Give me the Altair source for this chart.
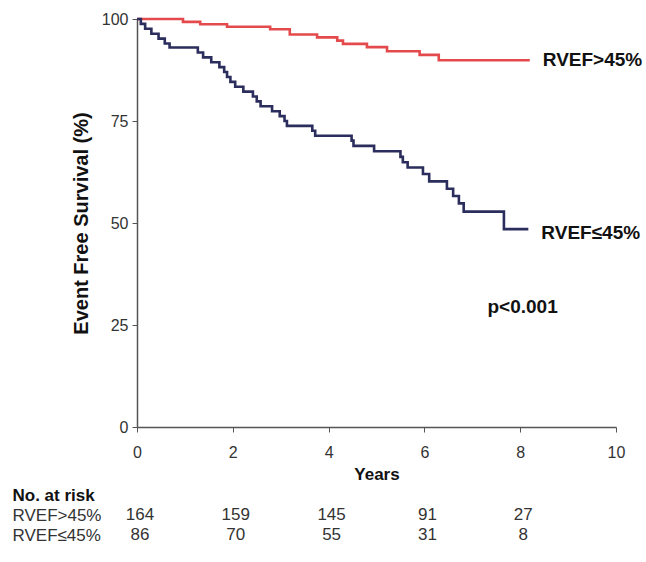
import altair as alt
import pandas as pd

FONT = "Liberation Sans"

# Kaplan-Meier curves: time (years) at which each level begins, event-free survival (%)
high_t = [0, 0.96, 1.32, 1.88, 2.78, 3.19, 3.76, 4.18, 4.30, 4.80, 5.22, 5.90, 6.30, 8.20]
high_s = [100, 99.3, 98.7, 98.1, 97.5, 96.2, 95.5, 94.7, 93.9, 93.1, 92.1, 91.2, 89.9, 89.9]

low_t = [0, 0.08, 0.17, 0.30, 0.45, 0.58, 0.68, 1.27, 1.38, 1.55, 1.72, 1.82, 1.88,
         1.95, 2.05, 2.22, 2.42, 2.50, 2.58, 2.82, 2.98, 3.08, 3.13, 3.66, 3.72,
         4.48, 4.52, 4.95, 5.50, 5.55, 5.65, 5.97, 6.10, 6.47, 6.60, 6.72, 6.82,
         7.66, 8.17]
low_s = [100, 98.8, 97.6, 96.4, 95.2, 94.0, 93.0, 91.8, 90.6, 89.4, 88.2, 87.0, 85.8,
         84.6, 83.4, 82.2, 81.0, 79.8, 78.6, 77.4, 76.2, 75.0, 73.8, 72.6, 71.4,
         70.2, 68.9, 67.6, 66.2, 64.9, 63.6, 62.0, 60.2, 58.4, 56.6, 54.8, 52.8,
         48.5, 48.5]

groups = ["RVEF>45%", "RVEF≤45%"]
colors = ["#e44a4c", "#2b2d5c"]

# Numbers at risk
risk_years = [0, 2, 4, 6, 8]
risk_high = [164, 159, 145, 91, 27]
risk_low = [86, 70, 55, 31, 8]
risk_rows = ["No. at risk", "RVEF>45%", "RVEF≤45%"]

p_text = "p<0.001"

curves = pd.DataFrame(
    [{"t": t, "s": s, "group": groups[0]} for t, s in zip(high_t, high_s)]
    + [{"t": t, "s": s, "group": groups[1]} for t, s in zip(low_t, low_s)]
)
ends = curves.groupby("group", as_index=False).last()

risk = pd.DataFrame(
    [{"t": t, "n": n, "row": groups[0]} for t, n in zip(risk_years, risk_high)]
    + [{"t": t, "n": n, "row": groups[1]} for t, n in zip(risk_years, risk_low)]
)

x_scale = alt.Scale(domain=[0, 10], nice=False, zero=False)
y_scale = alt.Scale(domain=[0, 100], nice=False)

x_axis = alt.Axis(
    values=[0, 2, 4, 6, 8, 10], format="d", grid=False, title="Years", labelFlush=False,
    labelFont=FONT, labelFontSize=16, labelColor="#333", labelPadding=12,
    titleFont=FONT, titleFontSize=17, titleFontWeight="bold", titleColor="#111",
    titlePadding=6, tickSize=5, tickColor="#555", domainColor="#555", domainWidth=1.5,
)
y_axis = alt.Axis(
    values=[0, 25, 50, 75, 100], grid=False, title="Event Free Survival (%)", labelFlush=False,
    labelFont=FONT, labelFontSize=16, labelColor="#333", labelPadding=4,
    titleFont=FONT, titleFontSize=20, titleFontWeight="bold", titleColor="#111",
    titlePadding=10, tickSize=5, tickColor="#555", domainColor="#555", domainWidth=1.5,
)

base = alt.Chart(curves)

lines = base.mark_line(interpolate="step-after", strokeWidth=2.6).encode(
    x=alt.X("t:Q", scale=x_scale, axis=x_axis),
    y=alt.Y("s:Q", scale=y_scale, axis=y_axis),
    color=alt.Color("group:N", scale=alt.Scale(domain=groups, range=colors), legend=None),
)

label_high = alt.Chart(ends).transform_filter(
    alt.datum.group == groups[0]
).mark_text(align="left", baseline="middle", dx=13, dy=0, font=FONT,
            fontSize=19, fontWeight="bold", color="#111").encode(
    x="t:Q", y="s:Q", text="group:N"
)
label_low = alt.Chart(ends).transform_filter(
    alt.datum.group == groups[1]
).mark_text(align="left", baseline="middle", dx=13, dy=4, font=FONT,
            fontSize=19, fontWeight="bold", color="#111").encode(
    x="t:Q", y="s:Q", text="group:N"
)

pval = alt.Chart(pd.DataFrame({"t": [8.05], "s": [29.5], "label": [p_text]})).mark_text(
    align="center", baseline="middle", font=FONT, fontSize=19, fontWeight="bold", color="#111"
).encode(x="t:Q", y="s:Q", text="label:N")

top = alt.layer(lines, label_high, label_low, pval).properties(width=479, height=408)

row_weight = {"condition": {"test": "datum.value == 'No. at risk'", "value": "bold"}, "value": "normal"}
row_color = {"condition": {"test": "datum.value == 'No. at risk'", "value": "#111"}, "value": "#333"}

table = alt.Chart(risk).mark_text(
    align="center", baseline="middle", dx=3, font=FONT, fontSize=17, color="#333"
).encode(
    x=alt.X("t:Q", scale=x_scale, axis=None),
    y=alt.Y("row:N", scale=alt.Scale(domain=risk_rows),
            axis=alt.Axis(title=None, labelAlign="left", labelPadding=125, ticks=False,
                          domain=False, labelFont=FONT, labelFontSize=17,
                          labelFontWeight=row_weight, labelColor=row_color)),
    text="n:Q",
).properties(width=479, height=60)

chart = alt.vconcat(top, table, spacing=3).properties(
    padding={"left": 12, "top": 11, "right": 0, "bottom": 0},
    background="white",
).configure_view(stroke=None)

chart.save("out.html", embed_options={"renderer": "svg", "actions": False})
